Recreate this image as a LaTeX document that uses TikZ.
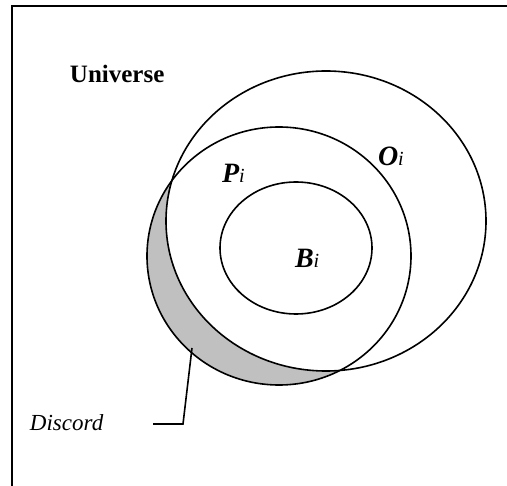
\documentclass[tikz,border=0pt]{standalone}
\usepackage{fontspec}
\setmainfont{Liberation Serif}
\definecolor{discordgray}{RGB}{192,192,192}
\newcommand{\setsym}[1]{{\fontsize{28}{28}\selectfont\bfseries\itshape #1}{\fontsize{20}{20}\selectfont\itshape i}}
\begin{document}
\begin{tikzpicture}[x=1pt,y=-1pt,
  setline/.style={line width=1.6pt},
  frameline/.style={line width=2.4pt},
  leader/.style={line width=1.6pt},
  lbl/.style={anchor=base west,inner sep=0pt,outer sep=0pt},
]
\useasboundingbox (0,0) rectangle (507,486);
% frame
\draw[frameline] (12,486) -- (12,6) -- (507,6);
% discord fill: P minus O
\begin{scope}
  \clip (279,256) ellipse [x radius=132, y radius=129];
  \fill[discordgray, even odd rule] (0,0) rectangle (507,486)
    (326,221) ellipse [x radius=160, y radius=150];
\end{scope}
% sets
\draw[setline] (326,221) ellipse [x radius=160, y radius=150];
\draw[setline] (279,256) ellipse [x radius=132, y radius=129];
\draw[setline] (296,248) ellipse [x radius=76, y radius=66];
% labels
\node[lbl, font=\fontsize{25}{25}\selectfont\bfseries] (univ) at (70,83) {Universe};
\node[lbl] (oi) at (378,166) {\setsym{O}};
\node[lbl] (pi) at (222,183) {\setsym{P}};
\node[lbl] (bi) at (295,268) {\setsym{B}};
\node[lbl, font=\fontsize{23}{23}\selectfont\itshape] (discord) at (30,431) {Discord};
% leader
\coordinate (ls) at (153,424);
\coordinate (lk) at (183,424);
\coordinate (le) at (192,348);
\draw[leader] (ls) -- (lk) -- (le);
\end{tikzpicture}
\end{document}
